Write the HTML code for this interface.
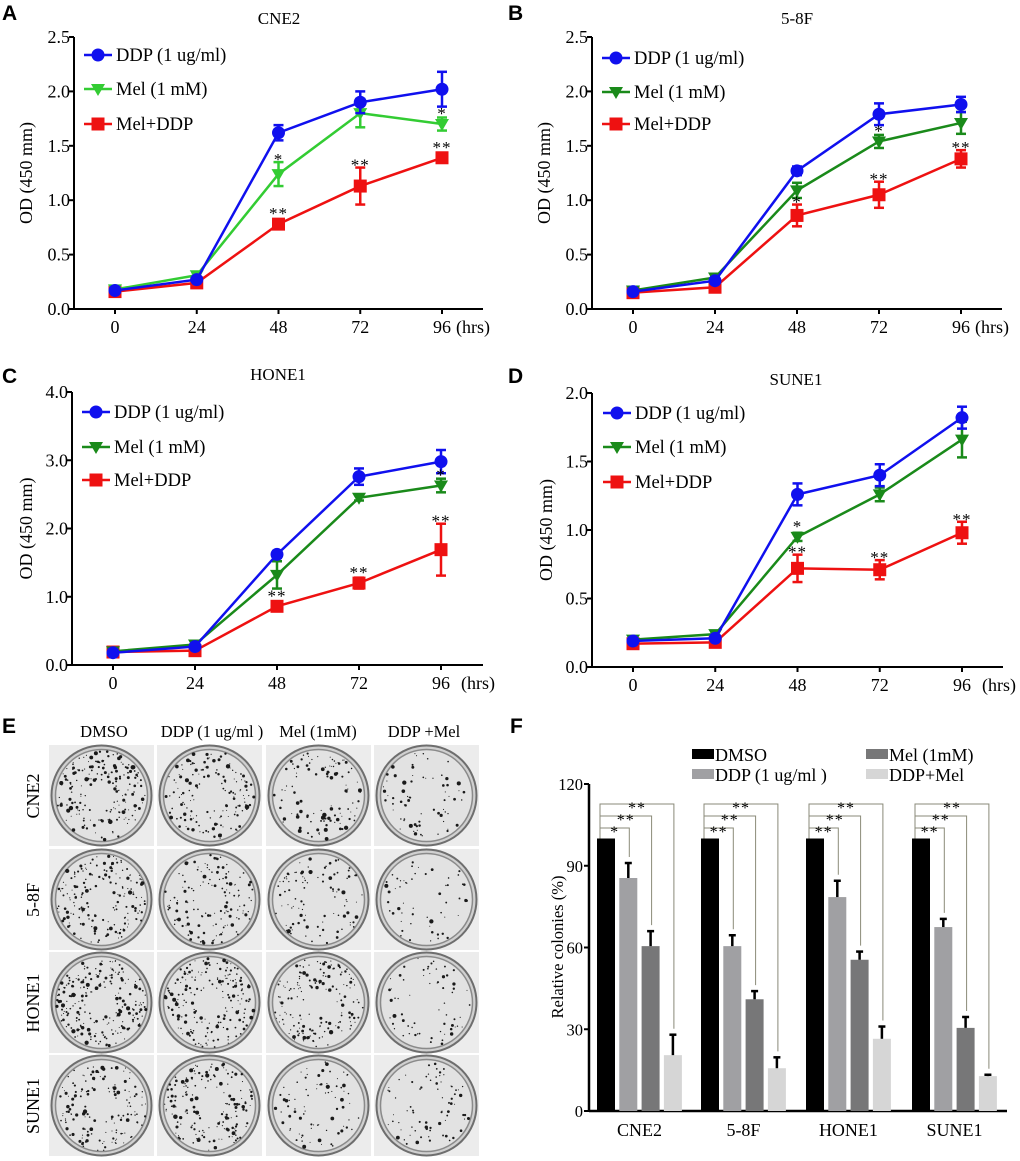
<!DOCTYPE html>
<html><head><meta charset="utf-8"><style>
html,body{margin:0;padding:0;background:#fff;}
svg{display:block;font-family:"Liberation Serif",serif;}
.pl{font-family:"Liberation Sans",sans-serif;font-weight:bold;font-size:21px;}
</style></head><body>
<svg id="fig" width="1020" height="1161" viewBox="0 0 1020 1161" xmlns="http://www.w3.org/2000/svg"></svg>
<script>
// ---- Line chart data ----
const hours = [0, 24, 48, 72, 96];
const xTickLabels = ["0", "24", "48", "72", "96"];
const seriesNames = ["DDP (1 ug/ml)", "Mel (1 mM)", "Mel+DDP"];
// Panel A CNE2
const aDDP = [0.17, 0.27, 1.62, 1.90, 2.02];
const aDDPErr = [0.02, 0.02, 0.07, 0.10, 0.16];
const aMel = [0.18, 0.31, 1.24, 1.80, 1.70];
const aMelErr = [0.02, 0.02, 0.11, 0.13, 0.06];
const aCombo = [0.16, 0.24, 0.78, 1.13, 1.39];
const aComboErr = [0.02, 0.02, 0.03, 0.17, 0.03];
// Panel B 5-8F
const bDDP = [0.16, 0.26, 1.27, 1.79, 1.88];
const bDDPErr = [0.02, 0.02, 0.04, 0.10, 0.07];
const bMel = [0.17, 0.29, 1.09, 1.54, 1.71];
const bMelErr = [0.02, 0.02, 0.07, 0.06, 0.10];
const bCombo = [0.15, 0.20, 0.86, 1.05, 1.38];
const bComboErr = [0.02, 0.02, 0.10, 0.12, 0.08];
// Panel C HONE1
const cDDP = [0.18, 0.27, 1.62, 2.76, 2.98];
const cDDPErr = [0.02, 0.02, 0.05, 0.12, 0.17];
const cMel = [0.20, 0.30, 1.32, 2.45, 2.63];
const cMelErr = [0.02, 0.02, 0.20, 0.04, 0.10];
const cCombo = [0.19, 0.21, 0.86, 1.20, 1.69];
const cComboErr = [0.02, 0.02, 0.05, 0.08, 0.38];
// Panel D SUNE1
const dDDP = [0.19, 0.21, 1.26, 1.40, 1.82];
const dDDPErr = [0.02, 0.02, 0.08, 0.08, 0.08];
const dMel = [0.20, 0.24, 0.95, 1.26, 1.66];
const dMelErr = [0.02, 0.02, 0.03, 0.05, 0.13];
const dCombo = [0.17, 0.18, 0.72, 0.71, 0.98];
const dComboErr = [0.02, 0.02, 0.10, 0.07, 0.08];
// significance stars: [seriesIndex, pointIndex, text]
const aStars = [[1,2,"*"],[2,2,"**"],[2,3,"**"],[1,4,"*"],[2,4,"**"]];
const bStars = [[1,3,"*"],[2,2,"*"],[2,3,"**"],[2,4,"**"]];
const cStars = [[2,2,"**"],[2,3,"**"],[1,4,"*"],[2,4,"**"]];
const dStars = [[1,2,"*"],[2,2,"**"],[2,3,"**"],[2,4,"**"]];
const aYTicks = [0, 0.5, 1.0, 1.5, 2.0, 2.5];
const aYLabels = ["0.0","0.5","1.0","1.5","2.0","2.5"];
const cYTicks = [0, 1, 2, 3, 4];
const cYLabels = ["0.0","1.0","2.0","3.0","4.0"];
const dYTicks = [0, 0.5, 1.0, 1.5, 2.0];
const dYLabels = ["0.0","0.5","1.0","1.5","2.0"];

// ---- Bar chart data (Panel F) ----
const barCategories = ["CNE2", "5-8F", "HONE1", "SUNE1"];
const barSeriesNames = ["DMSO", "DDP (1 ug/ml )", "Mel (1mM)", "DDP+Mel"];
const dmsoVals = [100, 100, 100, 100];
const ddpVals = [85.5, 60.5, 78.5, 67.5];
const ddpErr = [5.5, 4, 6, 3];
const melVals = [60.5, 41, 55.5, 30.5];
const melErr = [5.5, 3, 3, 4];
const comboVals = [20.5, 15.7, 26.5, 12.8];
const comboErr = [7.5, 4, 4.5, 0.5];
const bracketStars = [["*","**","**"],["**","**","**"],["**","**","**"],["**","**","**"]];
const fYTicks = [0, 30, 60, 90, 120];
const fYLabels = ["0","30","60","90","120"];

const NS = "http://www.w3.org/2000/svg";
const svg = document.getElementById("fig");
function el(tag, attrs, parent, text) {
  const e = document.createElementNS(NS, tag);
  for (const k in attrs) e.setAttribute(k, attrs[k]);
  if (text !== undefined) e.textContent = text;
  (parent || svg).appendChild(e);
  return e;
}

function linePanel(p) {
  const g = el("g", {});
  
  
  const xs = v => p.x0 + (v / 96) * (p.x96 - p.x0);
  const ys = v => p.yb - (v / p.ymax) * (p.yb - p.yt);
  const lt = el("text", {x: p.lx, y: p.ly, class: "pl"}, g, p.letter);
  
  
  const tt = el("text", {x: p.tx, y: p.ty, "font-size": 17, "text-anchor": "middle"}, g, p.title);
  
  
  const ya = el("line", {x1: p.ax, y1: p.yt, x2: p.ax, y2: p.yb, stroke: "#000", "stroke-width": 2}, g);
  
  
  const xa = el("line", {x1: p.ax, y1: p.yb, x2: p.xend, y2: p.yb, stroke: "#000", "stroke-width": 2}, g);
  
  
  p.yTicks.forEach((v, i) => {
    el("line", {x1: p.ax - 5, y1: ys(v), x2: p.ax, y2: ys(v), stroke: "#000", "stroke-width": 2}, g);
    const t = el("text", {x: p.ax - 4, y: ys(v) + 6, "font-size": 18, "text-anchor": "end"}, g, p.yLabels[i]);
    
    
  });
  hours.forEach((h, i) => {
    el("line", {x1: xs(h), y1: p.yb, x2: xs(h), y2: p.yb + 5, stroke: "#000", "stroke-width": 2}, g);
    const t = el("text", {x: xs(h), y: p.yb + 24, "font-size": 18, "text-anchor": "middle"}, g, xTickLabels[i]);
    
    
  });
  const hr = el("text", {x: xs(96) + p.hrsOff, y: p.yb + 24, "font-size": 18}, g, "(hrs)");
  
  
  const cy = (p.yt + p.yb) / 2;
  const yt = el("text", {x: p.ytx, y: cy, "font-size": 18, "text-anchor": "middle", transform: `rotate(-90 ${p.ytx} ${cy})`}, g, "OD (450 mm)");
  
  
  const colors = ["#1010ee", p.green, "#ee1111"];
  function marker(k, cx, cyy, par) {
    if (k === 0) return el("circle", {cx: cx, cy: cyy, r: 6.5, fill: colors[0]}, par);
    if (k === 1) return el("path", {d: `M${cx-7},${cyy-5} L${cx+7},${cyy-5} L${cx},${cyy+7} Z`, fill: colors[1]}, par);
    return el("rect", {x: cx - 6.5, y: cyy - 6.5, width: 13, height: 13, fill: colors[2]}, par);
  }
  [2, 1, 0].forEach(k => {
    const vals = p.series[k], errs = p.errs[k];
    const sg = el("g", {}, g);
    
    
    const pts = vals.map((v, i) => xs(hours[i]) + "," + ys(v)).join(" ");
    el("polyline", {points: pts, fill: "none", stroke: colors[k], "stroke-width": 2.5}, sg);
    vals.forEach((v, i) => {
      const x = xs(hours[i]);
      const e1 = ys(v + errs[i]), e2 = ys(v - errs[i]);
      el("line", {x1: x, y1: e1, x2: x, y2: e2, stroke: colors[k], "stroke-width": 2.5}, sg);
      el("line", {x1: x - 5, y1: e1, x2: x + 5, y2: e1, stroke: colors[k], "stroke-width": 2.5}, sg);
      el("line", {x1: x - 5, y1: e2, x2: x + 5, y2: e2, stroke: colors[k], "stroke-width": 2.5}, sg);
      const m = marker(k, x, ys(v), sg);
      
      
    });
  });
  p.stars.forEach(s => {
    const v = p.series[s[0]][s[1]], e = p.errs[s[0]][s[1]];
    const t = el("text", {x: xs(hours[s[1]]), y: 0, "font-size": 17, "text-anchor": "middle", "letter-spacing": 1}, g, s[2]);
    t.setAttribute('y', Math.min(ys(v + e), ys(v) - 8) + 3);
    
    
  });
  const lg = el("g", {}, g);
  
  
  seriesNames.forEach((n, k) => {
    const yy = p.legY[k];
    el("line", {x1: p.legX, y1: yy, x2: p.legX + 28, y2: yy, stroke: colors[k], "stroke-width": 2.5}, lg);
    marker(k, p.legX + 14, yy, lg);
    const t = el("text", {x: p.legX + 32, y: yy + 6, "font-size": 18.5}, lg, n);
    
    
  });
}

linePanel({name: "panel-a-cne2", letter: "A", lx: 2, ly: 20, title: "CNE2", tx: 279, ty: 24,
  ax: 74, x0: 115, x96: 442, xend: 483, yt: 37, yb: 309, ymax: 2.5, yTicks: aYTicks, yLabels: aYLabels, ytx: 32, hrsOff: 14,
  green: "#33cc33", series: [aDDP, aMel, aCombo], errs: [aDDPErr, aMelErr, aComboErr], stars: aStars,
  legX: 84, legY: [55, 89, 124]});
linePanel({name: "panel-b-58f", letter: "B", lx: 508, ly: 20, title: "5-8F", tx: 797, ty: 24,
  ax: 592, x0: 633, x96: 961, xend: 1002, yt: 37, yb: 309, ymax: 2.5, yTicks: aYTicks, yLabels: aYLabels, ytx: 550, hrsOff: 14,
  green: "#1a8a1a", series: [bDDP, bMel, bCombo], errs: [bDDPErr, bMelErr, bComboErr], stars: bStars,
  legX: 602, legY: [58, 92, 124]});
linePanel({name: "panel-c-hone1", letter: "C", lx: 2, ly: 383, title: "HONE1", tx: 278, ty: 380,
  ax: 72, x0: 113, x96: 441, xend: 483, yt: 392, yb: 665, ymax: 4, yTicks: cYTicks, yLabels: cYLabels, ytx: 32, hrsOff: 20,
  green: "#1a8a1a", series: [cDDP, cMel, cCombo], errs: [cDDPErr, cMelErr, cComboErr], stars: cStars,
  legX: 82, legY: [412, 447, 480]});
linePanel({name: "panel-d-sune1", letter: "D", lx: 508, ly: 383, title: "SUNE1", tx: 796, ty: 385,
  ax: 592, x0: 633, x96: 962, xend: 1003, yt: 393, yb: 667, ymax: 2, yTicks: dYTicks, yLabels: dYLabels, ytx: 552, hrsOff: 20,
  green: "#1a8a1a", series: [dDDP, dMel, dCombo], errs: [dDDPErr, dMelErr, dComboErr], stars: dStars,
  legX: 603, legY: [413, 447, 482]});

// ---- Panel E: colony plates ----
(function () {
  const g = el("g", {});
  
  
  const lt = el("text", {x: 2, y: 733, class: "pl"}, g, "E");
  
  
  const heads = ["DMSO", "DDP (1 ug/ml )", "Mel (1mM)", "DDP +Mel"];
  const hx = [104, 212, 318, 424];
  heads.forEach((h, i) => {
    const t = el("text", {x: hx[i], y: 737, "font-size": 16.5, "text-anchor": "middle"}, g, h);
    
    
  });
  const rows = ["CNE2", "5-8F", "HONE1", "SUNE1"];
  const colX = [49, 157, 266, 374], rowY = [745, 849, 952, 1055];
  const density = [[190, 150, 110, 70], [180, 140, 100, 55], [220, 190, 160, 65], [150, 170, 80, 75]];
  let seed = 7;
  const rnd = () => { seed = (seed * 16807) % 2147483647; return seed / 2147483647; };
  rows.forEach((r, ri) => {
    const cy0 = rowY[ri] + 51;
    const t = el("text", {x: 39, y: cy0, "font-size": 18, "text-anchor": "middle", transform: `rotate(-90 39 ${cy0})`}, g, r);
    
    
    colX.forEach((cx, ci) => {
      const pg = el("g", {}, g);
      
      
      el("rect", {x: cx, y: rowY[ri], width: 105, height: 101, fill: "#ececec"}, pg);
      const ccx = cx + 52.5, ccy = rowY[ri] + 50.5;
      el("circle", {cx: ccx, cy: ccy, r: 50, fill: "#d0d0d0", stroke: "#6e6e6e", "stroke-width": 2}, pg);
      el("circle", {cx: ccx, cy: ccy, r: 46, fill: "#e2e2e2", stroke: "#8a8a8a", "stroke-width": 1.5}, pg);
      const n = density[ri][ci];
      for (let k = 0; k < n; k++) {
        const a = rnd() * Math.PI * 2, rr = 45 * Math.sqrt(0.1 + 0.9 * rnd());
        el("circle", {cx: ccx + rr * Math.cos(a), cy: ccy + rr * Math.sin(a), r: 0.5 + rnd() * rnd() * 1.8, fill: "#1a1a1a"}, pg);
      }
    });
  });
})();

// ---- Panel F: bar chart ----
(function () {
  const g = el("g", {});
  
  
  const lt = el("text", {x: 510, y: 733, class: "pl"}, g, "F");
  
  
  const ax = 589, yb = 1111, yt = 784, xend = 1007;
  const ys = v => yb - (v / 120) * (yb - yt);
  const groupX = [597, 701, 806, 912];
  const pitch = 22.3, bw = 18;
  const fills = ["#000", "#a0a0a3", "#777778", "#d6d6d6"];
  const yax = el("line", {x1: ax, y1: yt, x2: ax, y2: yb, stroke: "#000", "stroke-width": 2.5}, g);
  
  
  const xax = el("line", {x1: ax, y1: yb, x2: xend, y2: yb, stroke: "#000", "stroke-width": 2.5}, g);
  
  
  fYTicks.forEach((v, i) => {
    el("line", {x1: ax - 5, y1: ys(v), x2: ax, y2: ys(v), stroke: "#000", "stroke-width": 2}, g);
    const t = el("text", {x: ax - 6, y: ys(v) + 6, "font-size": 16.5, "text-anchor": "end"}, g, fYLabels[i]);
    
    
  });
  const ytl = el("text", {x: 563, y: 947, "font-size": 16.5, "text-anchor": "middle", transform: "rotate(-90 563 947)"}, g, "Relative colonies (%)");
  
  
  const all = [dmsoVals, ddpVals, melVals, comboVals];
  const errs = [null, ddpErr, melErr, comboErr];
  const levels = [828, 816, 804];
  barCategories.forEach((c, gi) => {
    all.forEach((arr, si) => {
      const x = groupX[gi] + si * pitch;
      const b = el("rect", {x: x, y: ys(arr[gi]), width: bw, height: yb - ys(arr[gi]), fill: fills[si]}, g);
      
      
      if (errs[si]) {
        const cx = x + bw / 2, top = ys(arr[gi] + errs[si][gi]);
        el("line", {x1: cx, y1: ys(arr[gi]), x2: cx, y2: top, stroke: "#000", "stroke-width": 2.5}, g);
        el("line", {x1: cx - 3.5, y1: top, x2: cx + 3.5, y2: top, stroke: "#000", "stroke-width": 2.5}, g);
      }
    });
    const cl = el("text", {x: groupX[gi] + 1.5 * pitch + bw / 2, y: 1136, "font-size": 18, "text-anchor": "middle"}, g, c);
    
    
    const x0 = groupX[gi] + bw / 2 - 6;
    [1, 2, 3].forEach((si, li) => {
      const lv = levels[li];
      const x1 = groupX[gi] + si * pitch + bw / 2 + 1;
      const bot = ys(all[si][gi] + errs[si][gi]) - 6;
      el("polyline", {points: `${x0},${ys(100)} ${x0},${lv} ${x1},${lv} ${x1},${bot}`, fill: "none", stroke: "#8a8a78", "stroke-width": 1}, g);
      const st = el("text", {x: (x0 + x1) / 2, y: lv + 9, "font-size": 16, "text-anchor": "middle", "letter-spacing": 1}, g, bracketStars[gi][li]);
      
      
    });
  });
  const lg = el("g", {}, g);
  
  
  const lx = [692, 692, 866, 866], ly = [749, 769, 749, 769];
  [0, 1, 2, 3].forEach(si => {
    el("rect", {x: lx[si], y: ly[si], width: 22, height: 10, fill: fills[si]}, lg);
    const t = el("text", {x: lx[si] + 23, y: ly[si] + 12, "font-size": 18}, lg, barSeriesNames[si]);
    
    
  });
})();
</script>
</body></html>
